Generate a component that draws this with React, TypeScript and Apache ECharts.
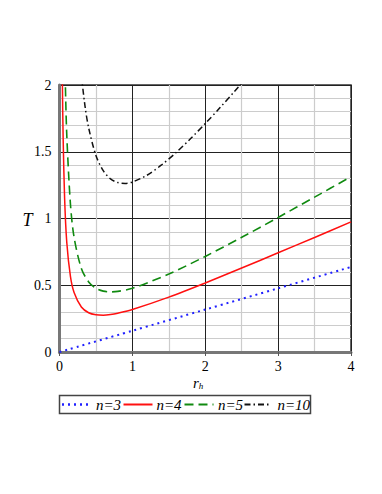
import React, { useEffect, useRef } from "react";
import * as echarts from "echarts";

const xTicks = [0, 1, 2, 3, 4];
const yTicks = [0, 0.5, 1, 1.5, 2];

const n3: [number, number][] = [
  [0, 0], [1, 0.159], [2, 0.318], [3, 0.477], [4, 0.637],
];

const n4: [number, number][] = [
  [0.03, 2.66], [0.04, 2.0], [0.05, 1.604], [0.07, 1.154], [0.1, 0.82],
  [0.15, 0.566], [0.2, 0.446], [0.3, 0.337], [0.4, 0.294], [0.5, 0.279],
  [0.6, 0.276], [0.7, 0.281], [0.8, 0.291], [1, 0.318], [1.5, 0.411],
  [2, 0.517], [2.5, 0.629], [3, 0.743], [3.5, 0.858], [4, 0.975],
];

const n5: [number, number][] = [
  [0.07, 2.296], [0.08, 2.015], [0.1, 1.623], [0.15, 1.109], [0.2, 0.859],
  [0.3, 0.626], [0.4, 0.525], [0.5, 0.477], [0.6, 0.456], [0.7, 0.45],
  [0.8, 0.454], [1, 0.477], [1.5, 0.584], [2, 0.716], [2.5, 0.859],
  [3, 1.008], [3.5, 1.16], [4, 1.313],
];

const n10: [number, number][] = [
  [0.3, 2.072], [0.35, 1.842], [0.4, 1.679], [0.5, 1.472], [0.6, 1.358],
  [0.7, 1.297], [0.8, 1.269], [0.9, 1.263], [1, 1.273], [1.2, 1.324],
  [1.4, 1.401], [1.6, 1.494], [1.8, 1.599], [2, 1.711], [2.2, 1.829],
  [2.4, 1.951], [2.6, 2.076],
];

const seriesNames = ["n=3", "n=4", "n=5", "n=10"];

const serif = "Times New Roman";

const colors = ["#2020ff", "#ff1010", "#108a10", "#111111"];
const dashes: any[] = [[2, 4], "solid", [9, 5], [6, 3, 1.5, 3]];
const widths = [2, 1.5, 1.6, 1.5];

export default function App() {
  const ref = useRef<HTMLDivElement>(null);
  useEffect(() => {
    if (!ref.current) return;
    const chart = echarts.init(ref.current, undefined, { renderer: "svg" });
    const datasets = [n3, n4, n5, n10];
    const series = datasets.map((data, i) => ({
      name: seriesNames[i],
      type: "line",
      data,
      smooth: 0.3,
      showSymbol: false,
      symbol: "none",
      clip: true,
      lineStyle: { color: colors[i], width: widths[i], type: dashes[i] },
      itemStyle: { color: colors[i] },
    }));

    const lineX = [62, 123.5, 184.5, 244.5];
    const lineW = [27, 29, 29, 27];
    const textX = [96, 156.5, 218, 277.5];
    const legendY = 404.5;
    const legendEls: any[] = [
      {
        type: "rect",
        shape: { x: 59.5, y: 395.5, width: 251, height: 18 },
        style: { fill: "#fff", stroke: "#444", lineWidth: 1.5 },
        z: 10,
      },
    ];
    seriesNames.forEach((nm, i) => {
      legendEls.push({
        type: "line",
        shape: { x1: lineX[i], y1: legendY, x2: lineX[i] + lineW[i], y2: legendY },
        style: {
          stroke: colors[i],
          lineWidth: widths[i] + 0.5,
          lineDash: dashes[i] === "solid" ? null : dashes[i],
        },
        z: 11,
      });
      legendEls.push({
        type: "text",
        x: textX[i],
        y: legendY,
        style: {
          text: nm,
          fontFamily: serif,
          fontStyle: "italic",
          fontSize: 15,
          fill: "#000",
          align: "left",
          verticalAlign: "middle",
        },
        z: 11,
      });
    });

    chart.setOption({
      animation: false,
      backgroundColor: "#fff",
      grid: {
        left: 59.5, right: 31, top: 85, bottom: 142,
        show: true, borderColor: "#333", borderWidth: 1.5,
      },
      xAxis: {
        type: "value",
        min: xTicks[0],
        max: xTicks[xTicks.length - 1],
        interval: 1,
        axisLine: { show: true, lineStyle: { color: "#777", width: 3 } },
        axisTick: { show: true, length: 4, lineStyle: { color: "#555" } },
        minorTick: { show: false, splitNumber: 2 },
        axisLabel: { color: "#000", fontFamily: serif, fontSize: 14, margin: 7 },
        splitLine: { show: true, lineStyle: { color: "#222", width: 1 } },
        minorSplitLine: { show: true, lineStyle: { color: "#ccc", width: 1.2 } },
      },
      yAxis: {
        type: "value",
        min: yTicks[0],
        max: yTicks[yTicks.length - 1],
        interval: 0.5,
        axisLine: { show: true, lineStyle: { color: "#777", width: 3 } },
        axisTick: { show: false },
        minorTick: { show: false, splitNumber: 5 },
        axisLabel: { color: "#000", fontFamily: serif, fontSize: 14, margin: 8 },
        splitLine: { show: true, lineStyle: { color: "#222", width: 1 } },
        minorSplitLine: { show: true, lineStyle: { color: "#ccc", width: 1.2 } },
      },
      graphic: [
        {
          type: "text",
          x: 27.5,
          y: 220,
          style: {
            text: "T",
            fontFamily: serif,
            fontStyle: "italic",
            fontSize: 18,
            fill: "#000",
            align: "center",
            verticalAlign: "middle",
          },
        },
        {
          type: "text",
          x: 193,
          y: 383,
          style: {
            text: "{r|r}{h|h}",
            fill: "#000",
            align: "left",
            verticalAlign: "middle",
            rich: {
              r: { fontFamily: serif, fontStyle: "italic", fontSize: 15, fill: "#000" },
              h: { fontFamily: serif, fontStyle: "italic", fontSize: 9, fill: "#000", padding: [6, 0, 0, 0] },
            },
          },
        },
        ...legendEls,
      ],
      series,
    });
    return () => chart.dispose();
  }, []);
  return <div ref={ref} style={{ position: "fixed", left: 0, top: 0, width: 382, height: 494 }} />;
}
